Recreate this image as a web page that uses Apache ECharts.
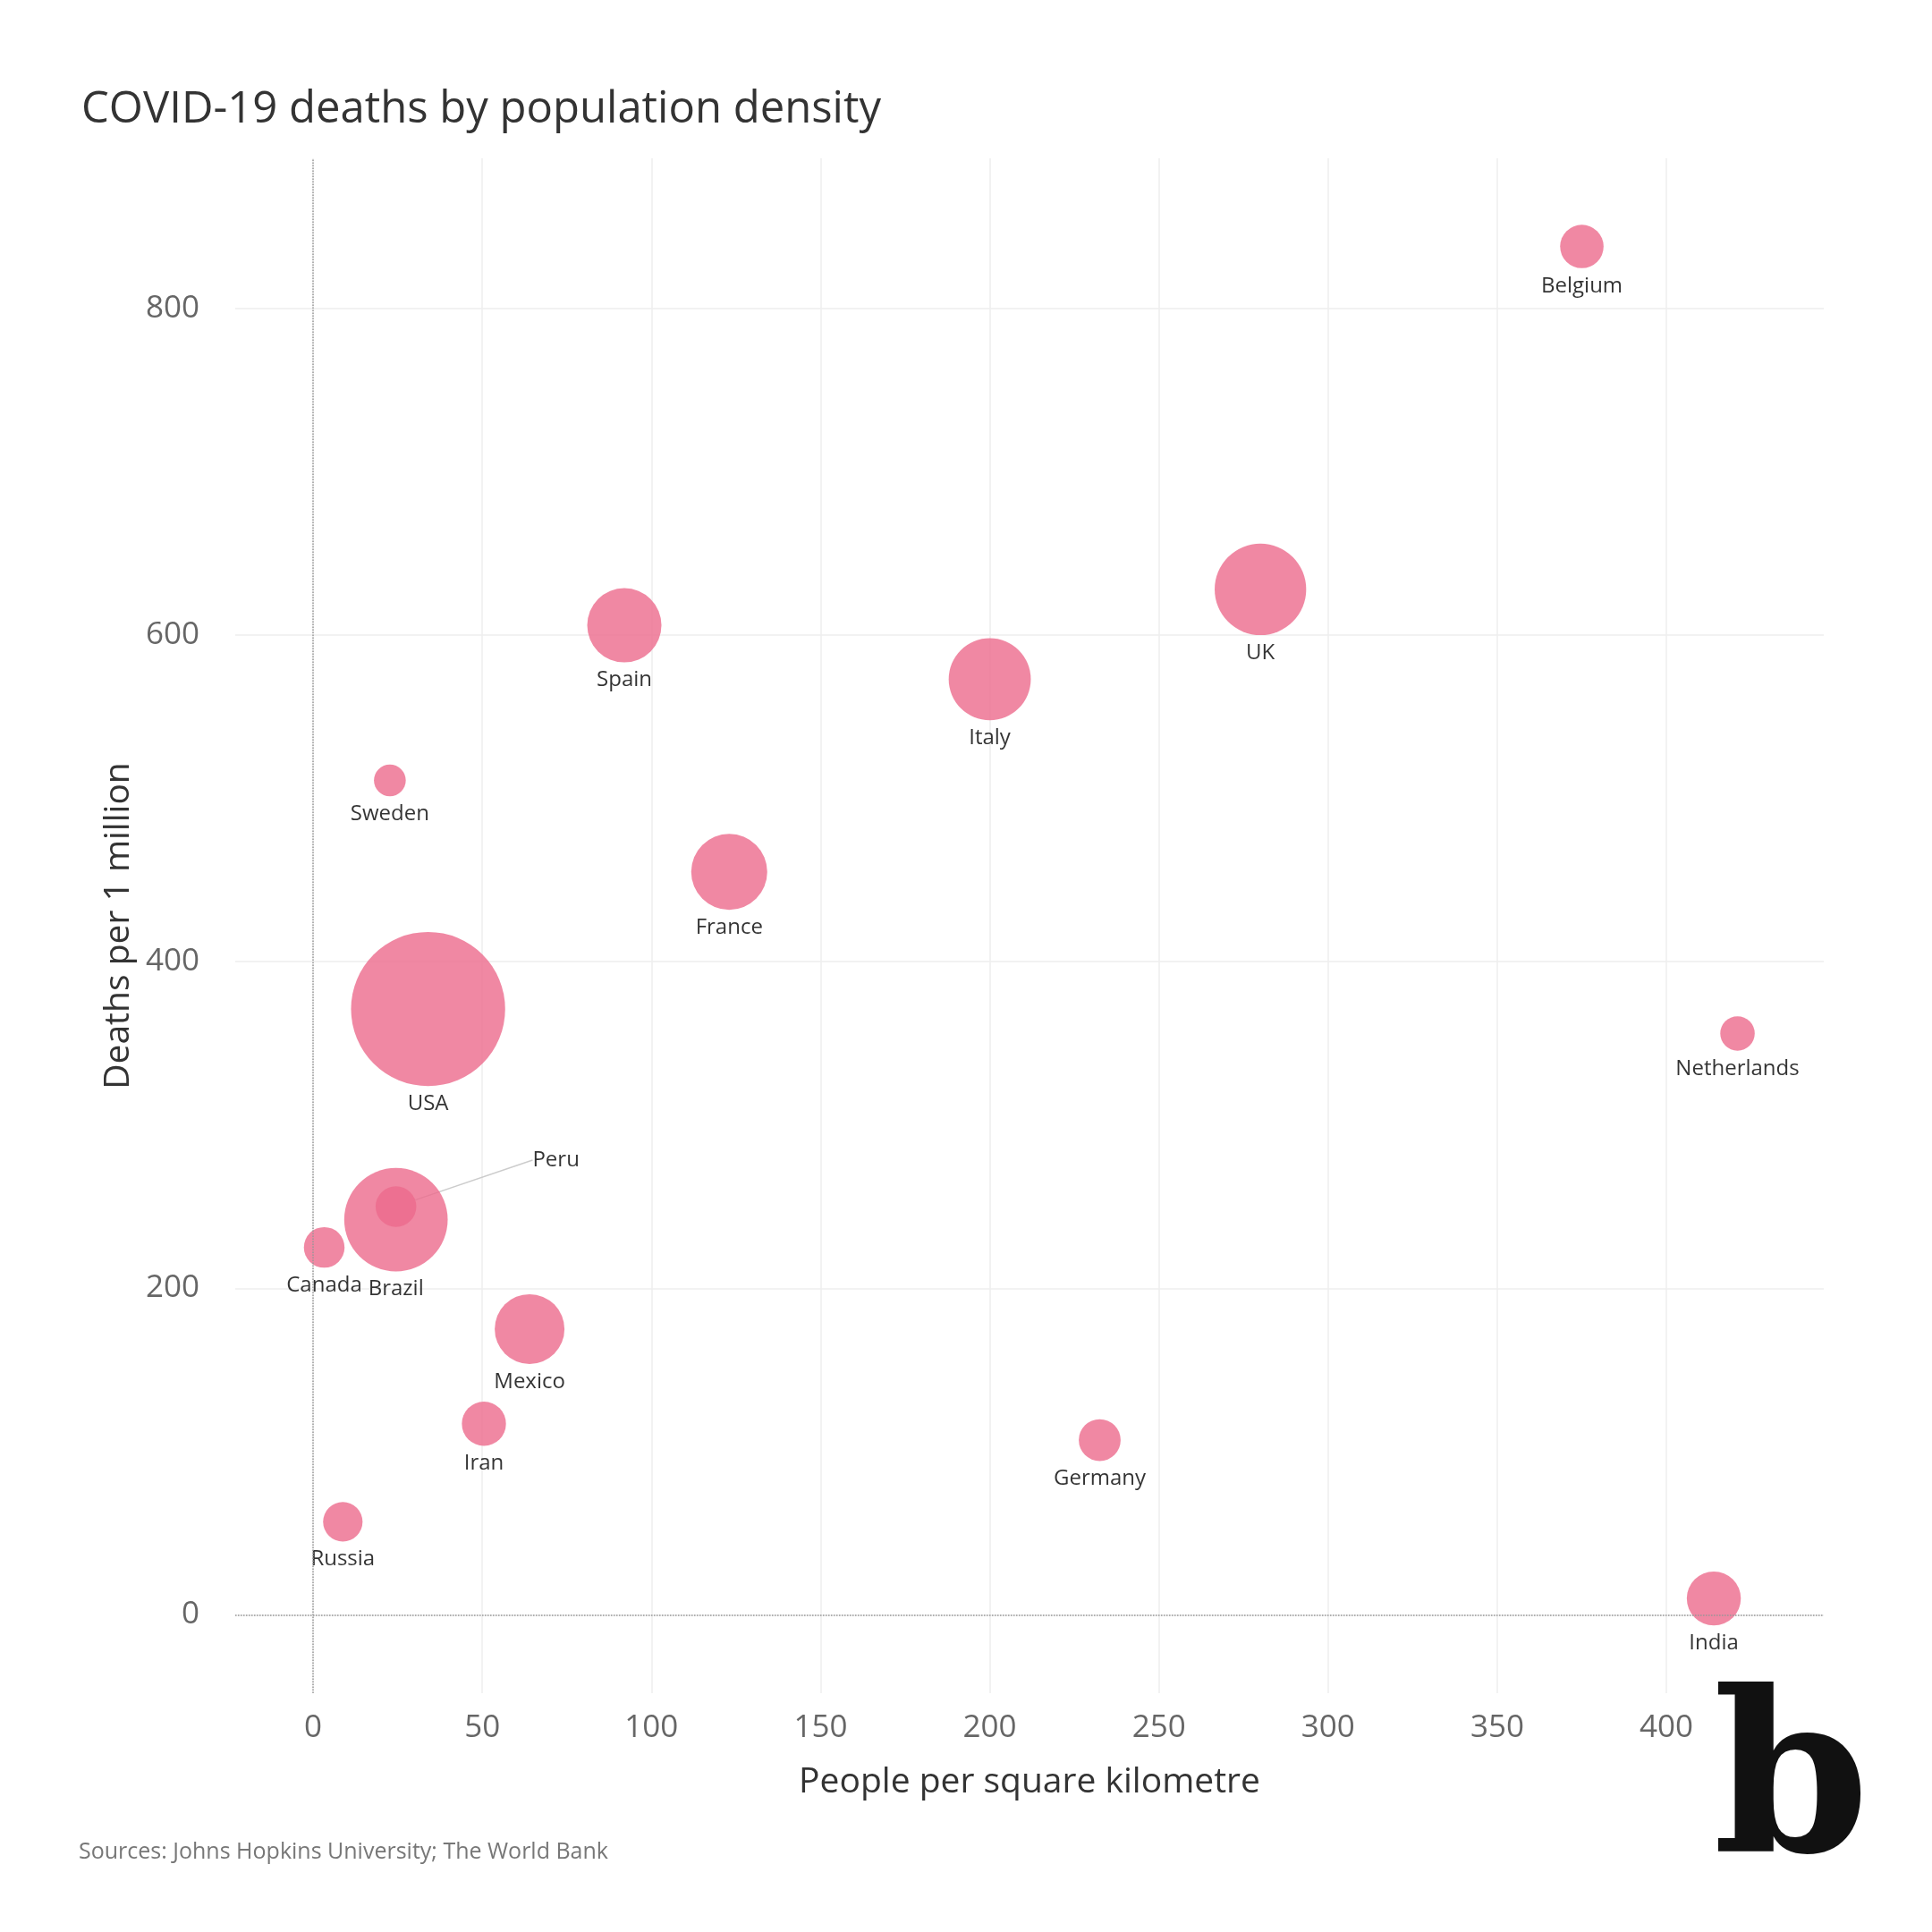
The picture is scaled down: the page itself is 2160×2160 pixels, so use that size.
<!DOCTYPE html>
<html><head><meta charset="utf-8">
<script src="https://cdn.jsdelivr.net/npm/echarts@6/dist/echarts.min.js"></script>
<style>html,body{margin:0;background:#fff}#c{width:2160px;height:2160px}</style>
</head><body><div id="c"></div>
<script>
const countries = ["Belgium","UK","Italy","Spain","France","Sweden","USA","Netherlands","Brazil","Peru","Canada","Mexico","Iran","Germany","Russia","India"];
const density = [375,280,200,92,123,22.7,34,421,24.5,24.5,3.3,64,50.5,232.5,8.8,414];
const deathsPerMillion = [838,628,573,606,455,511,371,356,242,250,225,175,117,107,57,10];
const totalDeathsK = [9.7,43,34.6,28.3,29.7,5.2,122,6.1,55,8.5,8.5,25,10,9,8,15];
const xTicks = [0,50,100,150,200,250,300,350,400];
const yTicks = [0,200,400,600,800];
const peruIdx = countries.indexOf("Peru");

const data = countries.map((c,i)=>{
  const d = {name:c,value:[density[i],deathsPerMillion[i],totalDeathsK[i]]};
  if(i===peruIdx){
    d.label={position:'right',distance:10};
    d.labelLine={show:true,lineStyle:{color:'#ccc',width:1.5}};
  }
  return d;
});

const chart = echarts.init(document.getElementById('c'));
chart.setOption({
  backgroundColor:'#fff',
  textStyle:{fontFamily:'Open Sans'},
  title:{text:'COVID-19 deaths by population density',left:86,top:94,
    textStyle:{fontSize:49,fontWeight:'normal',color:'#333',fontFamily:'Open Sans'}},
  graphic:[
    {type:'text',left:88,top:2058,style:{text:'Sources: Johns Hopkins University; The World Bank',fontSize:25,fill:'#777',fontFamily:'Open Sans'}},
    {type:'text',right:70,top:1880,style:{text:'b',fontSize:250,fontWeight:'bold',fill:'#111',fontFamily:'DejaVu Serif'}}
  ],
  grid:{left:263,right:121,top:177,bottom:267},
  xAxis:{type:'value',min:-23,max:446.5,
    name:'People per square kilometre',nameLocation:'middle',nameGap:80,
    nameTextStyle:{fontSize:39,color:'#333'},
    axisLine:{show:false},axisTick:{show:false,customValues:xTicks},
    axisLabel:{customValues:xTicks,fontSize:35,color:'#666',margin:22},
    splitLine:{show:true,lineStyle:{color:'#eee',width:1.5}}},
  yAxis:{type:'value',min:-48,max:892,
    name:'Deaths per 1 million',nameLocation:'middle',nameGap:110,
    nameTextStyle:{fontSize:39,color:'#333'},
    axisLine:{show:false},axisTick:{show:false,customValues:yTicks},
    axisLabel:{customValues:yTicks,fontSize:35,color:'#666',margin:40},
    splitLine:{show:true,lineStyle:{color:'#eee',width:1.5}}},
  series:[{
    type:'scatter',data:data,
    symbolSize:v=>15.6*Math.sqrt(v[2]),
    itemStyle:{color:'#ec6a8c',opacity:0.8},
    label:{show:true,position:'bottom',distance:8,formatter:'{b}',fontSize:24,color:'#000'},
    labelLayout:p=> p.dataIndex===peruIdx ? {dx:120,dy:-52} : {},
    markLine:{silent:true,symbol:'none',label:{show:false},
      lineStyle:{type:'dotted',color:'#999',width:1.5},
      data:[{xAxis:0},{yAxis:0}]}
  }]
});
</script></body></html>
